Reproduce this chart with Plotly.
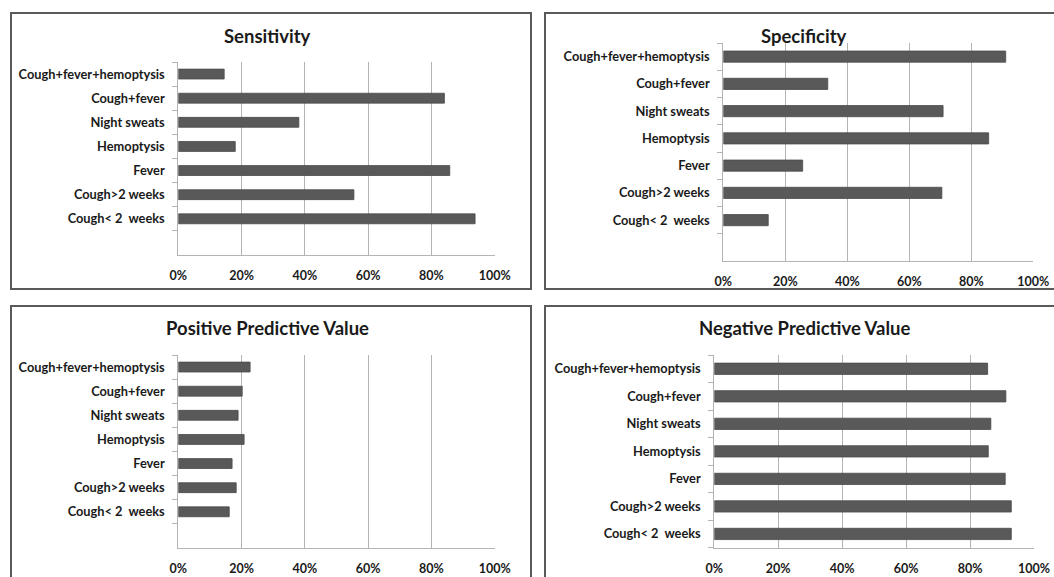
import plotly.graph_objects as go

W, H = 1054, 577

categories = ["Cough< 2  weeks", "Cough>2 weeks", "Fever", "Hemoptysis",
              "Night sweats", "Cough+fever", "Cough+fever+hemoptysis"]
sensitivity = [93.8, 55.5, 85.8, 18.0, 38.1, 84.1, 14.5]
specificity = [14.5, 70.5, 25.6, 85.6, 70.9, 33.7, 91.1]
ppv = [16.1, 18.3, 17.0, 20.8, 18.9, 20.2, 22.7]
npv = [92.9, 92.9, 91.0, 85.7, 86.5, 91.2, 85.5]
titles = ["Sensitivity", "Specificity", "Positive Predictive Value", "Negative Predictive Value"]
x_ticks = [0, 20, 40, 60, 80, 100]
x_tick_labels = ["0%", "20%", "40%", "60%", "80%", "100%"]


def px(x):
    return x / W


def py(y):
    return 1 - y / H


FONT = "Lato, Liberation Sans, sans-serif"
TXT = "#1a1a1a"
GRID = "#b3b3b3"
BAR = "#595959"

panels = [
    # values, x-domain px, y-domain px (top, bottom), blank slot, title pos
    (sensitivity, (178.3, 494.7), (62, 255), True, (267, 36)),
    (specificity, (723.3, 1033.3), (43, 261), True, (804, 36)),
    (ppv, (178.3, 494.7), (355, 548), True, (267, 328)),
    (npv, (714.3, 1034), (355, 547.7), False, (804, 328)),
]

fig = go.Figure()
layout = {}
annotations = []
for i, (vals, xd, yd, blank, tpos) in enumerate(panels):
    n = "" if i == 0 else str(i + 1)
    fig.add_trace(go.Bar(
        x=vals, y=categories, orientation="h",
        xaxis="x" + n, yaxis="y" + n,
        marker=dict(color=BAR, line=dict(color="#4a4a4a", width=0.8)),
        width=0.41, showlegend=False, hoverinfo="x+y",
    ))
    layout["xaxis" + n] = dict(
        domain=[px(xd[0]), px(xd[1])], anchor="y" + n,
        range=[0, 100], tickmode="array", tickvals=x_ticks, ticktext=x_tick_labels,
        showgrid=True, gridcolor=GRID, gridwidth=1,
        showline=True, linecolor=GRID, linewidth=1,
        zeroline=False, ticks="", ticklabelstandoff=9, automargin=False,
        tickfont=dict(family=FONT, size=12.5, color=TXT, weight="bold"),
        fixedrange=True,
    )
    layout["yaxis" + n] = dict(
        domain=[py(yd[1]), py(yd[0])], anchor="x" + n,
        type="category", categoryorder="array", categoryarray=categories,
        range=[-1.5 if blank else -0.5, 6.5],
        tickson="boundaries", ticks="outside", ticklen=5, tickcolor=GRID,
        showgrid=False, showline=True, linecolor=GRID, linewidth=1,
        ticklabelstandoff=10, automargin=False,
        tickfont=dict(family=FONT, size=12.8, color=TXT, weight="bold"),
        fixedrange=True,
    )
    annotations.append(dict(
        text=titles[i], x=px(tpos[0]), y=py(tpos[1]), xref="paper", yref="paper",
        xanchor="center", yanchor="middle", showarrow=False,
        font=dict(family=FONT, size=18.5, color=TXT, weight="bold"),
    ))

box_col = "#5a5a5a"
boxes = [(11, 13, 531, 289), (545, 13, 1070, 289), (11, 306, 531, 600), (545, 306, 1070, 600)]
shapes = [dict(type="rect", xref="paper", yref="paper",
               x0=px(b[0]), x1=px(b[2]), y0=py(b[3]), y1=py(b[1]),
               line=dict(color=box_col, width=2), layer="below")
          for b in boxes]

fig.update_layout(
    width=W, height=H, margin=dict(l=0, r=0, t=0, b=0, autoexpand=False),
    paper_bgcolor="white", plot_bgcolor="white",
    annotations=annotations, shapes=shapes,
    **layout,
)

fig.write_html("out.html", config={"displayModeBar": False})
